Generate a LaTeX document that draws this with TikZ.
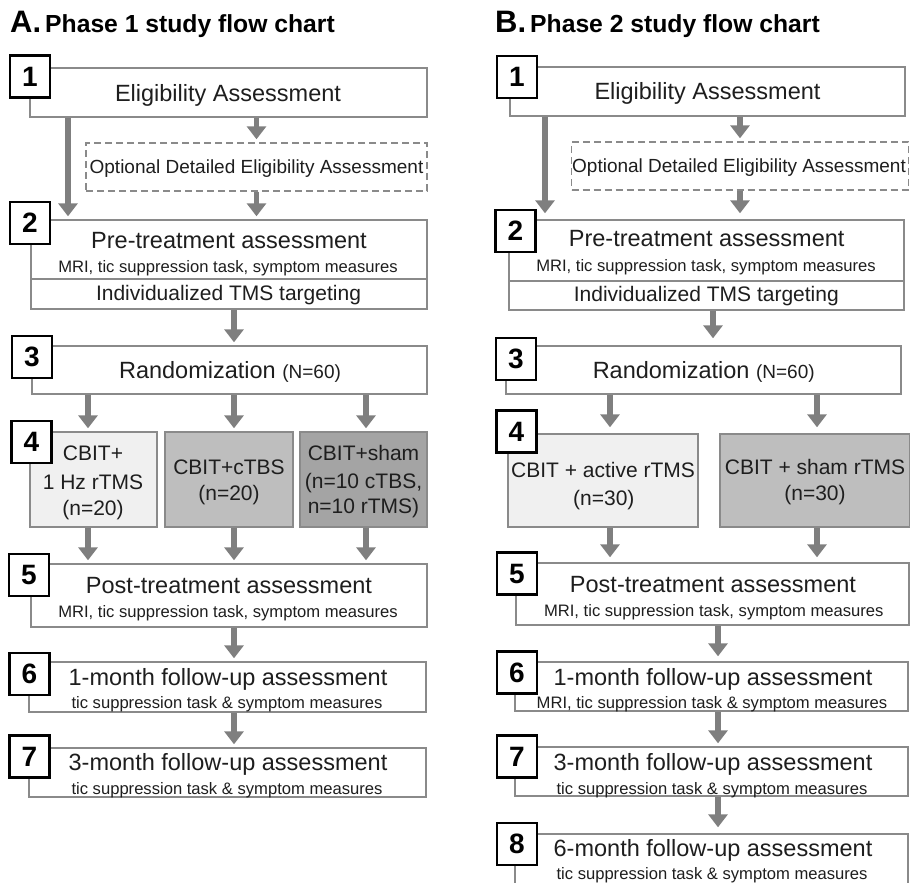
\documentclass[tikz,border=0pt]{standalone}
\usepackage{fontspec}
\setmainfont{Liberation Sans}
\usetikzlibrary{positioning}
\usetikzlibrary{calc}
\usetikzlibrary{arrows.meta}
\definecolor{bgray}{HTML}{8A8A8A}
\definecolor{agray}{HTML}{7F7F7F}
\definecolor{tgray}{HTML}{1E1E1E}
\definecolor{fone}{HTML}{F0F0F0}
\definecolor{ftwo}{HTML}{BEBEBE}
\definecolor{fthree}{HTML}{A4A4A4}

\begin{document}
\begin{tikzpicture}[x=1pt,y=-1pt,
	bx/.style={draw=bgray, line width=1.4pt, fill=white, inner sep=0pt},
	ob/.style={bx, dash pattern=on 7pt off 4pt},
	nb/.style={draw=black, line width=2.8pt, fill=white, inner sep=0pt, minimum width=40pt, minimum height=42pt, font=\fontsize{28}{28}\selectfont\bfseries},
	ar/.style={draw=agray, line width=5.5pt, shorten >=3pt, -{Triangle[width=19pt,length=13pt]}},
	maintxt/.style={anchor=base, inner sep=0pt, text=tgray, font=\fontsize{23.5}{26}\selectfont},
	subtxt/.style={anchor=base, inner sep=0pt, text=tgray, font=\fontsize{16.6}{18}\selectfont},
	opttxt/.style={anchor=base, inner sep=0pt, text=tgray, font=\fontsize{19}{21}\selectfont},
	armtxt/.style={anchor=base, inner sep=0pt, text=tgray, font=\fontsize{21}{24}\selectfont},
	ttl/.style={anchor=base west, inner sep=0pt, font=\fontsize{24.7}{28}\selectfont\bfseries},
	ltr/.style={anchor=base west, inner sep=0pt, font=\fontsize{31}{32}\selectfont\bfseries}]
\useasboundingbox (0,0) rectangle (910,883);
\clip (0,0) rectangle (910,883);

% A. phase 1
\node (ltrA) at (10,33) [ltr] {A.};
\node (ttlA) at (45,33) [ttl] {Phase 1 study flow chart};

\node (eligA) at (228.5,92.5) [bx,minimum width=397pt,minimum height=49pt] {};
\node (optA) at (256.5,167) [ob,minimum width=341pt,minimum height=48pt] {};
\node (preA) at (229,249.5) [bx,minimum width=396pt,minimum height=59pt] {};
\node (tmsA) at (229,294) [bx,minimum width=396pt,minimum height=30pt] {};
\node (rndA) at (229.5,370) [bx,minimum width=395pt,minimum height=48pt] {};
\node (armA1) at (93.5,479.5) [bx,fill=fone,minimum width=127pt,minimum height=95pt] {};
\node (armA2) at (229,479.5) [bx,fill=ftwo,minimum width=128pt,minimum height=95pt] {};
\node (armA3) at (363.5,479.5) [bx,fill=fthree,minimum width=127pt,minimum height=95pt] {};
\node (postA) at (229,595.5) [bx,minimum width=396pt,minimum height=63pt] {};
\node (fu1A) at (227.5,687) [bx,minimum width=397pt,minimum height=50pt] {};
\node (fu3A) at (227.5,772.5) [bx,minimum width=397pt,minimum height=49pt] {};

\node (tEA) at (228,101.4) [maintxt] {Eligibility Assessment};
\node (tOA) at (256.5,173.8) [opttxt] {Optional Detailed Eligibility Assessment};
\node (tPA) at (229,248.4) [maintxt] {Pre-treatment assessment};
\node (sPA) at (228,272) [subtxt] {MRI, tic suppression task, symptom measures};
\node (tTA) at (228.5,300.5) [armtxt] {Individualized TMS targeting};
\node (tRA) at (230,378.4) [maintxt] {Randomization {\fontsize{19}{20}\selectfont(N=60)}};
\node (a1A) at (93,460.5) [armtxt] {CBIT+};
\node (a1B) at (93,489.5) [armtxt] {1 Hz rTMS};
\node (a1C) at (93,515.5) [armtxt] {(n=20)};
\node (a2A) at (229,474.5) [armtxt] {CBIT+cTBS};
\node (a2B) at (229,500.5) [armtxt] {(n=20)};
\node (a3A) at (363.5,460.5) [armtxt] {CBIT+sham};
\node (a3B) at (363.5,488.5) [armtxt] {(n=10 cTBS,};
\node (a3C) at (363.5,513.5) [armtxt] {n=10 rTMS)};
\node (tSA) at (229,593.4) [maintxt] {Post-treatment assessment};
\node (sSA) at (228,617) [subtxt] {MRI, tic suppression task, symptom measures};
\node (t1A) at (228,685.4) [maintxt] {1-month follow-up assessment};
\node (s1A) at (227,708) [subtxt] {tic suppression task \& symptom measures};
\node (t3A) at (228,770.4) [maintxt] {3-month follow-up assessment};
\node (s3A) at (227,794) [subtxt] {tic suppression task \& symptom measures};

\coordinate (skipA) at (68,0);
\coordinate (colA) at (234,0);
\draw[ar] (eligA.south -| optA.north) -- (optA.north);
\draw[ar] (optA.south) -- (preA.north -| optA.south);
\draw[ar] (eligA.south -| skipA) -- (preA.north -| skipA);
\draw[ar] (tmsA.south -| colA) -- (rndA.north -| colA);
\foreach \i/\x in {1/88, 2/234, 3/366} {
\coordinate (cA\i) at (\x,0);
\draw[ar] (rndA.south -| cA\i) -- (armA\i.north -| cA\i);
\draw[ar] (armA\i.south -| cA\i) -- (postA.north -| cA\i);
}
\draw[ar] (postA.south -| colA) -- (fu1A.north -| colA);
\draw[ar] (fu1A.south -| colA) -- (fu3A.north -| colA);

\node (nA1) at (30,76.5) [nb] {1};
\node (nA2) at (30,223) [nb] {2};
\node (nA3) at (32,357) [nb] {3};
\node (nA4) at (31.5,442) [nb] {4};
\node (nA5) at (29,575) [nb] {5};
\node (nA6) at (29.5,674) [nb] {6};
\node (nA7) at (29.5,756.5) [nb] {7};

% B. phase 2
\node (ltrB) at (495,33) [ltr] {B.};
\node (ttlB) at (530,33) [ttl] {Phase 2 study flow chart};

\node (eligB) at (707.5,91.5) [bx,minimum width=395pt,minimum height=49pt] {};
\node (optB) at (740,166) [ob,minimum width=337pt,minimum height=48pt] {};
\node (preB) at (706.5,250.5) [bx,minimum width=395pt,minimum height=61pt] {};
\node (tmsB) at (706.5,295.5) [bx,minimum width=395pt,minimum height=29pt] {};
\node (rndB) at (703.5,370) [bx,minimum width=395pt,minimum height=48pt] {};
\node (armB1) at (603,480.5) [bx,fill=fone,minimum width=190pt,minimum height=93pt] {};
\node (armB2) at (815,480.5) [bx,fill=ftwo,minimum width=190pt,minimum height=93pt] {};
\node (postB) at (712.5,594) [bx,minimum width=393pt,minimum height=62pt] {};
\node (fu1B) at (711.5,686.5) [bx,minimum width=393pt,minimum height=49pt] {};
\node (fu3B) at (711.5,771.5) [bx,minimum width=393pt,minimum height=49pt] {};
\node (fu6B) at (711.5,862) [bx,minimum width=393pt,minimum height=56pt] {};

\node (tEB) at (707.5,99.4) [maintxt] {Eligibility Assessment};
\node (tOB) at (739,172.8) [opttxt] {Optional Detailed Eligibility Assessment};
\node (tPB) at (706.7,246.4) [maintxt] {Pre-treatment assessment};
\node (sPB) at (706,271) [subtxt] {MRI, tic suppression task, symptom measures};
\node (tTB) at (706.3,301.5) [armtxt] {Individualized TMS targeting};
\node (tRB) at (703.7,378.4) [maintxt] {Randomization {\fontsize{19}{20}\selectfont(N=60)}};
\node (b1A) at (603,477.5) [armtxt] {CBIT + active rTMS};
\node (b1B) at (603.8,505.5) [armtxt] {(n=30)};
\node (b2A) at (815,474.5) [armtxt] {CBIT + sham rTMS};
\node (b2B) at (815,500.5) [armtxt] {(n=30)};
\node (tSB) at (713,592.4) [maintxt] {Post-treatment assessment};
\node (sSB) at (713.8,616) [subtxt] {MRI, tic suppression task, symptom measures};
\node (t1B) at (713,685.4) [maintxt] {1-month follow-up assessment};
\node (s1B) at (712,708) [subtxt] {MRI, tic suppression task \& symptom measures};
\node (t3B) at (713,770.4) [maintxt] {3-month follow-up assessment};
\node (s3B) at (712,794) [subtxt] {tic suppression task \& symptom measures};
\node (t6B) at (713,856.4) [maintxt] {6-month follow-up assessment};
\node (s6B) at (712,879) [subtxt] {tic suppression task \& symptom measures};

\coordinate (skipB) at (545,0);
\coordinate (colB) at (713,0);
\coordinate (lowB) at (718,0);
\draw[ar] (eligB.south -| optB.north) -- (optB.north);
\draw[ar,shorten >=6pt] (optB.south) -- (preB.north -| optB.south);
\draw[ar,shorten >=6pt] (eligB.south -| skipB) -- (preB.north -| skipB);
\draw[ar,shorten >=7pt] (tmsB.south -| colB) -- (rndB.north -| colB);
\foreach \i/\x in {1/610, 2/817} {
\coordinate (cB\i) at (\x,0);
\draw[ar,shorten >=6pt] (rndB.south -| cB\i) -- (armB\i.north -| cB\i);
\draw[ar,shorten >=5pt] (armB\i.south -| cB\i) -- (postB.north -| cB\i);
}
\draw[ar,shorten >=5pt] (postB.south -| lowB) -- (fu1B.north -| lowB);
\draw[ar] (fu1B.south -| lowB) -- (fu3B.north -| lowB);
\draw[ar,shorten >=6pt] (fu3B.south -| lowB) -- (fu6B.north -| lowB);

\node (nB1) at (517,77) [nb] {1};
\node (nB2) at (515.5,231) [nb] {2};
\node (nB3) at (516,359) [nb] {3};
\node (nB4) at (516.5,431.5) [nb] {4};
\node (nB5) at (517,573.5) [nb] {5};
\node (nB6) at (517,672.5) [nb] {6};
\node (nB7) at (517,756.5) [nb] {7};
\node (nB8) at (517,844) [nb] {8};
\end{tikzpicture}
\end{document}
